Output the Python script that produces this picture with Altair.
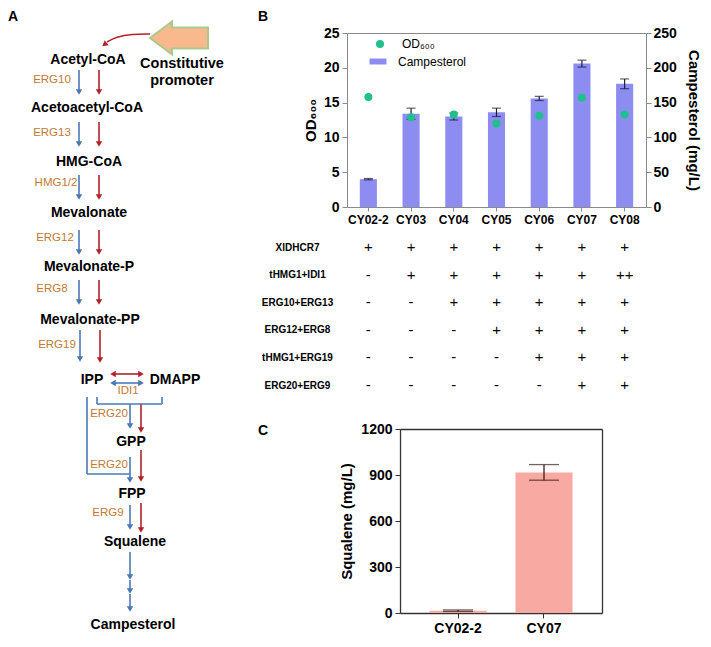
import altair as alt
import pandas as pd

# ---------------- data ----------------
strains = ["CY02-2", "CY03", "CY04", "CY05", "CY06", "CY07", "CY08"]
campesterol = [40, 134, 130, 136, 156, 206, 177]
campesterol_err = [1, 8, 5, 6, 3, 5, 7]
od600 = [15.8, 12.9, 13.3, 12.0, 13.1, 15.7, 13.3]

modules = ["XlDHCR7", "tHMG1+IDI1", "ERG10+ERG13", "ERG12+ERG8", "tHMG1+ERG19", "ERG20+ERG9"]
signs_XlDHCR7 = ["+", "+", "+", "+", "+", "+", "+"]
signs_tHMG1_IDI1 = ["-", "+", "+", "+", "+", "+", "++"]
signs_ERG10_ERG13 = ["-", "-", "+", "+", "+", "+", "+"]
signs_ERG12_ERG8 = ["-", "-", "-", "+", "+", "+", "+"]
signs_tHMG1_ERG19 = ["-", "-", "-", "-", "+", "+", "+"]
signs_ERG20_ERG9 = ["-", "-", "-", "-", "-", "+", "+"]

squalene_strains = ["CY02-2", "CY07"]
squalene = [15, 917]
squalene_err = [5, 51]

metabolites = ["Acetyl-CoA", "Acetoacetyl-CoA", "HMG-CoA", "Mevalonate", "Mevalonate-P",
               "Mevalonate-PP", "IPP", "DMAPP", "GPP", "FPP", "Squalene", "Campesterol"]
enzymes = ["ERG10", "ERG13", "HMG1/2", "ERG12", "ERG8", "ERG19", "IDI1", "ERG20", "ERG20", "ERG9"]
promoter_lines = ["Constitutive", "promoter"]
panel_letters = ["A", "B", "C"]

# ---------------- layout / style ----------------
W, H = 695, 631
M = 8
FONT = "Liberation Sans, Arial, Helvetica, sans-serif"
BLUE = "#4a78b6"
RED = "#b1232b"
ENZ = "#c17a36"
BAR_B = "#8c8cf1"
DOT = "#1fbf8e"
BAR_C = "#f8a9a1"
ERR_B = "#1d1d3a"
ERR_C = "#3b1f1f"
GRAY = "#8a8a8a"

# diagram layout in page pixels
metabolite_xy = [(88, 60), (87, 108), (89, 162), (89, 213), (89, 267), (90, 320), (92, 380),
                 (175, 380), (131, 442), (132, 494), (135, 542), (133, 625)]
enzyme_xy = [(52, 80), (52, 133), (56, 183), (55, 238), (52, 289), (57, 345), (128, 391),
             (109, 414), (109, 465), (108, 513)]
promoter_xy = [(182, 64), (182, 81)]
letter_xy = [(8, 10), (258, 10), (258, 424)]
v_arrows = [  # colour, x, y start, y tip
    (BLUE, 79, 70, 95), (RED, 99, 70, 95),
    (BLUE, 79, 122, 147), (RED, 99, 122, 147),
    (BLUE, 79, 175, 200), (RED, 99, 175, 200),
    (BLUE, 79, 230, 255), (RED, 99, 230, 255),
    (BLUE, 79, 280, 305), (RED, 99, 280, 305),
    (BLUE, 80, 330, 362), (RED, 100, 330, 363),
    (BLUE, 130, 404, 429), (RED, 141, 404, 433),
    (BLUE, 130, 457, 483), (RED, 141, 450, 482),
    (BLUE, 130, 505, 530), (RED, 141, 503, 533),
    (BLUE, 130, 552, 580), (BLUE, 130, 580, 594), (BLUE, 130, 594, 612),
]
h_arrows = [(RED, 374, 110, 144), (BLUE, 383, 110, 144)]  # colour, y, x left tip, x right tip
brackets = [  # x, y, x2, y2
    (97, 397, 97, 404), (97, 404, 162, 404), (162, 404, 162, 397),
    (87, 397, 87, 474), (87, 474, 130, 474),
]
curve_xy = [(150, 34), (132, 34), (116, 37), (107, 42)]
curve_head = (104.5, 44.5)
big_arrow_center = (179, 38)

B_L, B_R, B_T, B_B = 347, 646, 33, 207
C_L, C_R, C_T, C_B = 400, 602, 429, 613
TAB_T, TAB_B = 247, 385


def px_x():
    return alt.Scale(domain=[M, M + W], range=[0, W], nice=False, zero=False)


def px_y():
    return alt.Scale(domain=[M, M + H], range=[0, H], nice=False, zero=False)


def xB():
    return alt.Scale(domain=strains, range=[B_L - M, B_R - M], paddingInner=0.6, paddingOuter=0.3)


def yOD():
    return alt.Scale(domain=[0, 25], range=[B_B - M, B_T - M], nice=False)


def yCamp():
    return alt.Scale(domain=[0, 250], range=[B_B - M, B_T - M], nice=False)


def yTab():
    return alt.Scale(type="point", domain=modules, range=[TAB_T - M, TAB_B - M], padding=0)


def xC():
    return alt.Scale(domain=squalene_strains, range=[C_L - M, C_R - M], paddingInner=0.337, paddingOuter=0.343)


def yC():
    return alt.Scale(domain=[0, 1200], range=[C_B - M, C_T - M], nice=False)


def frame_axis(orient, offset, color, width):
    return alt.Axis(orient=orient, offset=offset, labels=False, ticks=False, domain=True,
                    domainColor=color, domainWidth=width, title=None, grid=False)


# ---------------- panel B ----------------
dfB = pd.DataFrame({"strain": strains, "camp": campesterol, "err": campesterol_err, "od": od600})
dfB["lo"] = dfB["camp"] - dfB["err"]
dfB["hi"] = dfB["camp"] + dfB["err"]
dfB["s_camp"] = "Campesterol"
dfB["s_od"] = "OD\u2086\u2080\u2080"

barsB = alt.Chart(dfB).mark_bar().encode(
    x=alt.X("strain:N", scale=xB(), axis=alt.Axis(
        orient="bottom", offset=(B_B - M) - H, title=None, labelAngle=0, labelFontSize=12,
        labelFontWeight="bold", labelColor="black", tickColor=GRAY, tickSize=4, labelPadding=3,
        domainColor=GRAY, grid=False)),
    y=alt.Y("camp:Q", scale=yCamp(), axis=alt.Axis(
        orient="right", offset=(B_R - M) - W, values=[0, 50, 100, 150, 200, 250], format="d",
        title="Campesterol (mg/L)", titleFontSize=15, titleFontWeight="bold", titleColor="black",
        titlePadding=9, labelFontSize=14, labelFontWeight="bold", labelColor="black",
        tickColor=GRAY, tickSize=5, labelPadding=2, domainColor=GRAY, grid=False)),
    color=alt.Color("s_camp:N", scale=alt.Scale(domain=["Campesterol"], range=[BAR_B]),
                    legend=alt.Legend(orient="none", legendX=361.5, legendY=45, title=None,
                                      symbolType="M-1,-0.35L1,-0.35L1,0.35L-1,0.35Z",
                                      symbolSize=289, symbolStrokeWidth=0, labelFontSize=12,
                                      labelOffset=11.5, padding=0, labelColor="black")),
)

errB = alt.Chart(dfB).mark_rule(color=ERR_B, strokeWidth=1.2).encode(
    x=alt.X("strain:N", scale=xB(), axis=frame_axis("top", -(B_T - M), GRAY, 1)),
    y=alt.Y("lo:Q", scale=yCamp(), axis=None),
    y2="hi:Q",
)
capB_hi = alt.Chart(dfB).mark_tick(color=ERR_B, size=9, thickness=1.2).encode(
    x=alt.X("strain:N", scale=xB(), axis=None),
    y=alt.Y("hi:Q", scale=yCamp(), axis=None),
)
capB_lo = alt.Chart(dfB).mark_tick(color=ERR_B, size=9, thickness=1.2).encode(
    x=alt.X("strain:N", scale=xB(), axis=None),
    y=alt.Y("lo:Q", scale=yCamp(), axis=None),
)

ptsB = alt.Chart(dfB).mark_point(filled=True, size=64, opacity=1).encode(
    x=alt.X("strain:N", scale=xB(), axis=None),
    y=alt.Y("od:Q", scale=yOD(), axis=alt.Axis(
        orient="left", offset=-(B_L - M), values=[0, 5, 10, 15, 20, 25], format="d",
        title="OD\u2086\u2080\u2080", titleFontSize=15, titleFontWeight="bold", titleColor="black",
        titlePadding=5, labelFontSize=14, labelFontWeight="bold", labelColor="black",
        tickColor=GRAY, tickSize=5, labelPadding=3, domainColor=GRAY, grid=False)),
    color=alt.Color("s_od:N", scale=alt.Scale(domain=["OD\u2086\u2080\u2080"], range=[DOT]),
                    legend=alt.Legend(orient="none", legendX=366, legendY=30, title=None,
                                      symbolType="circle", symbolSize=64, symbolStrokeWidth=0,
                                      labelFontSize=12, labelOffset=16, padding=0,
                                      labelColor="black")),
)

# ---------------- table ----------------
sign_rows = [signs_XlDHCR7, signs_tHMG1_IDI1, signs_ERG10_ERG13, signs_ERG12_ERG8,
             signs_tHMG1_ERG19, signs_ERG20_ERG9]
tab_records = []
for mod, row in zip(modules, sign_rows):
    for s, v in zip(strains, row):
        tab_records.append({"strain": s, "module": mod, "sign": v})
dfT = pd.DataFrame(tab_records)

table = alt.Chart(dfT).mark_text(fontSize=15, font=FONT, color="black", baseline="middle").encode(
    x=alt.X("strain:N", scale=xB(), axis=None),
    y=alt.Y("module:N", scale=yTab(), axis=alt.Axis(
        orient="left", offset=-(297 - M), domain=False, ticks=False, tickSize=0, labelPadding=0,
        labelAlign="center", labelBaseline="middle", labelFontSize=10, labelFontWeight="bold",
        labelColor="black", title=None, grid=False)),
    text="sign:N",
)

# ---------------- panel C ----------------
dfC = pd.DataFrame({"strain": squalene_strains, "sq": squalene, "err": squalene_err})
dfC["lo"] = dfC["sq"] - dfC["err"]
dfC["hi"] = dfC["sq"] + dfC["err"]

barsC = alt.Chart(dfC).mark_bar(color=BAR_C).encode(
    x=alt.X("strain:N", scale=xC(), axis=alt.Axis(
        orient="bottom", offset=(C_B - M) - H, title=None, labelAngle=0, labelFontSize=14,
        labelFontWeight="bold", labelColor="black", tickColor="#333333", tickSize=5,
        labelPadding=3, domainColor="#333333", domainWidth=1.3, grid=False)),
    y=alt.Y("sq:Q", scale=yC(), axis=alt.Axis(
        orient="left", offset=-(C_L - M), values=[0, 300, 600, 900, 1200], format="d",
        title="Squalene (mg/L)", titleFontSize=15, titleFontWeight="bold", titleColor="black",
        titlePadding=6, labelFontSize=14, labelFontWeight="bold", labelColor="black",
        tickColor="#333333", tickSize=5, labelPadding=3, domainColor="#333333",
        domainWidth=1.3, grid=False)),
)
errC = alt.Chart(dfC).mark_rule(color=ERR_C, strokeWidth=1.3).encode(
    x=alt.X("strain:N", scale=xC(), axis=frame_axis("top", -(C_T - M), "#333333", 1.3)),
    y=alt.Y("lo:Q", scale=yC(), axis=frame_axis("right", (C_R - M) - W, "#333333", 1.3)),
    y2="hi:Q",
)
capC_hi = alt.Chart(dfC).mark_tick(color=ERR_C, size=30, thickness=1.3).encode(
    x=alt.X("strain:N", scale=xC(), axis=None),
    y=alt.Y("hi:Q", scale=yC(), axis=None),
)
capC_lo = alt.Chart(dfC).mark_tick(color=ERR_C, size=30, thickness=1.3).encode(
    x=alt.X("strain:N", scale=xC(), axis=None),
    y=alt.Y("lo:Q", scale=yC(), axis=None),
)

# ---------------- panel A (pathway diagram) ----------------
seg = []
heads = []
for c, x, y0, y1 in v_arrows:
    seg.append({"x": x, "y": y0, "x2": x, "y2": y1 - 3, "c": c})
    heads.append({"x": x, "y": y1 - 3, "c": c, "shape": "triangle-down"})
for c, y, x0, x1 in h_arrows:
    seg.append({"x": x0 + 3, "y": y, "x2": x1 - 3, "y2": y, "c": c})
    heads.append({"x": x0 + 3, "y": y, "c": c, "shape": "triangle-left"})
    heads.append({"x": x1 - 3, "y": y, "c": c, "shape": "triangle-right"})
for x, y, x2, y2 in brackets:
    seg.append({"x": x, "y": y, "x2": x2, "y2": y2, "c": BLUE})
dfSeg = pd.DataFrame(seg)
dfHead = pd.DataFrame(heads)

lines = alt.Chart(dfSeg).mark_rule(strokeWidth=1.6).encode(
    x=alt.X("x:Q", scale=px_x(), axis=None), y=alt.Y("y:Q", scale=px_y(), axis=None),
    x2="x2:Q", y2="y2:Q", color=alt.Color("c:N", scale=None),
)
arrowheads = alt.Chart(dfHead).mark_point(filled=True, size=42, opacity=1).encode(
    x=alt.X("x:Q", scale=px_x(), axis=None), y=alt.Y("y:Q", scale=px_y(), axis=None),
    color=alt.Color("c:N", scale=None), shape=alt.Shape("shape:N", scale=None),
)

dfCurve = pd.DataFrame({"x": [p[0] for p in curve_xy], "y": [p[1] for p in curve_xy],
                        "i": list(range(len(curve_xy)))})
curve = alt.Chart(dfCurve).mark_line(color=RED, strokeWidth=1.6, interpolate="basis").encode(
    x=alt.X("x:Q", scale=px_x(), axis=None), y=alt.Y("y:Q", scale=px_y(), axis=None),
    order="i:Q",
)
curve_tip = alt.Chart(pd.DataFrame({"x": [curve_head[0]], "y": [curve_head[1]]})).mark_point(
    filled=True, size=42, opacity=1, color=RED, shape="triangle-down", angle=50).encode(
    x=alt.X("x:Q", scale=px_x(), axis=None), y=alt.Y("y:Q", scale=px_y(), axis=None),
)
big_arrow = alt.Chart(pd.DataFrame({"x": [big_arrow_center[0]], "y": [big_arrow_center[1]]})).mark_point(
    filled=True, size=3364, opacity=1, fill="#f9b98c", stroke="#a9c98f", strokeWidth=2,
    shape="M-1,0L-0.24,-0.57L-0.24,-0.36L1,-0.36L1,0.36L-0.24,0.36L-0.24,0.57Z").encode(
    x=alt.X("x:Q", scale=px_x(), axis=None), y=alt.Y("y:Q", scale=px_y(), axis=None),
)

dfMet = pd.DataFrame({"t": metabolites, "x": [p[0] for p in metabolite_xy],
                      "y": [p[1] for p in metabolite_xy]})
met_text = alt.Chart(dfMet).mark_text(fontSize=14, fontWeight="bold", font=FONT, color="black",
                                      baseline="middle", align="center").encode(
    x=alt.X("x:Q", scale=px_x(), axis=None), y=alt.Y("y:Q", scale=px_y(), axis=None), text="t:N",
)
dfEnz = pd.DataFrame({"t": enzymes, "x": [p[0] for p in enzyme_xy], "y": [p[1] for p in enzyme_xy]})
enz_text = alt.Chart(dfEnz).mark_text(fontSize=11.5, font=FONT, color=ENZ,
                                      baseline="middle", align="center").encode(
    x=alt.X("x:Q", scale=px_x(), axis=None), y=alt.Y("y:Q", scale=px_y(), axis=None), text="t:N",
)
dfProm = pd.DataFrame({"t": promoter_lines, "x": [p[0] for p in promoter_xy],
                       "y": [p[1] for p in promoter_xy]})
prom_text = alt.Chart(dfProm).mark_text(fontSize=14.5, fontWeight="bold", font=FONT, color="black",
                                        baseline="middle", align="center").encode(
    x=alt.X("x:Q", scale=px_x(), axis=None), y=alt.Y("y:Q", scale=px_y(), axis=None), text="t:N",
)
dfLet = pd.DataFrame({"t": panel_letters, "x": [p[0] for p in letter_xy], "y": [p[1] for p in letter_xy]})
letters = alt.Chart(dfLet).mark_text(fontSize=14, fontWeight="bold", font=FONT, color="black",
                                     baseline="top", align="left").encode(
    x=alt.X("x:Q", scale=px_x(), axis=None), y=alt.Y("y:Q", scale=px_y(), axis=None), text="t:N",
)

chart = alt.layer(
    big_arrow, curve, curve_tip, lines, arrowheads, met_text, enz_text, prom_text, letters,
    barsB, errB, capB_hi, capB_lo, ptsB, table,
    barsC, errC, capC_hi, capC_lo,
).resolve_scale(
    x="independent", y="independent", color="independent", shape="independent"
).properties(
    width=W, height=H, autosize=alt.AutoSizeParams(type="none"), padding=0
).configure(
    font=FONT
).configure_axis(
    labelFont=FONT, titleFont=FONT, grid=False
).configure_legend(
    labelFont=FONT
).configure_view(
    stroke=None
)

chart.save("out.html", embed_options={"renderer": "svg", "actions": False})
